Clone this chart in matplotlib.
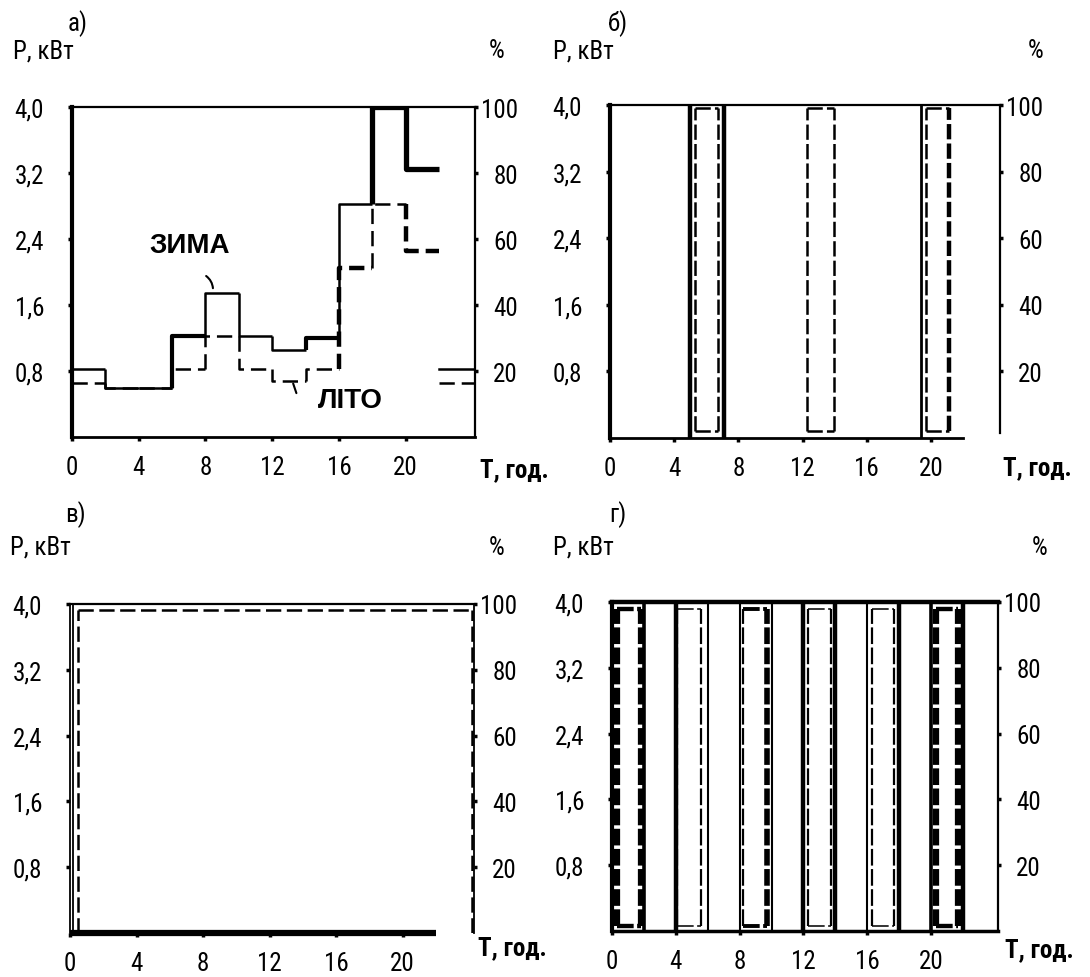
import matplotlib
matplotlib.use('Agg')
import matplotlib.pyplot as plt
from matplotlib import font_manager

# pick a narrow face if one is installed (the scan uses Arial Narrow)
fonts = font_manager.fontManager.ttflist
names = {f.name for f in fonts}
narrow_names = ['Liberation Sans Narrow', 'Arial Narrow', 'Roboto Condensed',
                'Noto Sans Condensed', 'Open Sans Condensed', 'DejaVu Sans Condensed']
narrow = next((n for n in narrow_names if n in names), None)
stretch = 'normal'
if narrow is None:
    for f in fonts:
        if str(f.stretch) in ('condensed', 'semi-condensed') and f.style == 'normal':
            narrow, stretch = f.name, str(f.stretch)
            break
if narrow is None:
    narrow = 'Liberation Sans'
plt.rcParams['font.family'] = [narrow, 'DejaVu Sans']
plt.rcParams['font.stretch'] = stretch
plt.rcParams['lines.scale_dashes'] = False

# --- data ---
hours = [0, 2, 4, 6, 8, 10, 12, 14, 16, 18, 20]
x_ticks = [0, 4, 8, 12, 16, 20]
p_ticks = [0.8, 1.6, 2.4, 3.2, 4.0]
p_labels = ['0,8', '1,6', '2,4', '3,2', '4,0']
pct_ticks = [20, 40, 60, 80, 100]

# а) winter (solid) / summer (dashed) load, kW
a_winter = [0.82, 0.60, 0.60, 1.22, 1.75, 1.22, 1.05, 1.20, 2.82, 4.00, 3.25]
a_summer = [0.65, 0.60, 0.60, 0.82, 1.22, 0.82, 0.68, 0.82, 2.05, 2.82, 2.25]
a_winter_lw = [1.8, 1.8, 1.8, 3.0, 1.8, 1.8, 1.8, 3.0, 1.8, 3.8, 3.8]
a_summer_lw = [1.8, 1.8, 1.8, 1.8, 1.8, 1.8, 1.8, 1.8, 3.2, 1.8, 3.2]
a_tail_start = 22
a_winter_tail = 0.82
a_summer_tail = 0.65

# б) on/off switching
b_switch = [5.0, 7.1, 19.4]
b_switch_lw = [3.2, 3.2, 2.0]
b_on_start = [5.3, 12.3, 19.7]
b_on_end = [6.75, 13.95, 21.15]
b_on_top, b_on_bottom = 3.96, 0.09

# в) continuous operation
c_inner = 0.2
c_on_start, c_on_end = 0.46, 24.15
c_on_top = 3.93
c_base_end = 22

# г) two-hour cycling
d_switch = [2, 4, 6, 8, 10, 12, 14, 16, 18, 20, 22]
d_switch_lw = [2.6, 3.2, 1.5, 1.5, 1.5, 3.2, 3.2, 1.5, 3.2, 2.6, 3.2]
d_on_start = [0.3, 4.1, 8.2, 12.3, 16.3, 20.3]
d_on_end = [1.8, 5.6, 9.7, 13.7, 17.7, 21.7]
d_left_lw = [4.5, 1.6, 1.6, 1.6, 1.6, 4.5]
d_right_lw = [4.5, 1.6, 4.0, 1.6, 1.6, 4.5]
d_on_top, d_on_bottom = 3.92, 0.06

W, H = 1090, 978
fig = plt.figure(figsize=(W / 100, H / 100), dpi=100)
TICK_FS = 18
LAB_FS = 18


def px_axes(l, t, r, b):
    return fig.add_axes([l / W, 1 - b / H, (r - l) / W, (b - t) / H])


def ftext(x, y, s, **kw):
    fig.text(x / W, 1 - y / H, s, **kw)


def setup(ax, xmax, left_lw=3.0):
    ax.set_xlim(0, xmax)
    ax.set_ylim(0, 4.0)
    ax.set_xticks(x_ticks)
    ax.set_xticklabels([str(t) for t in x_ticks], fontsize=TICK_FS)
    ax.set_yticks(p_ticks)
    ax.set_yticklabels(p_labels, fontsize=TICK_FS)
    ax.tick_params(axis='x', length=3, width=2.5, pad=10)
    ax.tick_params(axis='y', length=3, width=2.5, pad=17)
    ax.spines['left'].set_linewidth(left_lw)
    ax.spines['bottom'].set_linewidth(2.0)
    ax.spines['top'].set_linewidth(1.6)
    ax.spines['right'].set_linewidth(1.6)
    ax2 = ax.twinx()
    ax2.set_ylim(0, 100)
    ax2.set_yticks(pct_ticks)
    ax2.set_yticklabels([str(t) for t in pct_ticks], fontsize=TICK_FS, ha='right')
    ax2.tick_params(axis='y', length=2, width=2.5, pad=29)
    for s in ax2.spines.values():
        s.set_visible(False)
    return ax2


def heads(x0, y0, gap, letter, right_x, tlab_x, tlab_y):
    ftext(x0 + 65, y0, letter, fontsize=LAB_FS, ha='center', va='center')
    ftext(x0, y0 + gap, 'Р, кВт', fontsize=LAB_FS, ha='left', va='center')
    ftext(right_x, y0 + gap, '%', fontsize=LAB_FS, ha='center', va='center')
    ftext(tlab_x, tlab_y, 'Т, год.', fontsize=18, ha='left', va='center',
          weight='bold')


def steps(ax, vals, lws, **kw):
    prev = vals[0]
    for h, v, lw in zip(hours, vals, lws):
        ax.plot([h, h, h + 2], [prev, v, v], color='k', lw=lw,
                solid_capstyle='butt', **kw)
        prev = v


def rect(ax, x0, x1, y0, y1, lw_l, lw_r, lw_h, dashes):
    ax.plot([x0, x0], [y0, y1], color='k', lw=lw_l, ls='--', dashes=dashes)
    ax.plot([x1, x1], [y0, y1], color='k', lw=lw_r, ls='--', dashes=dashes)
    ax.plot([x0, x1], [y1, y1], color='k', lw=lw_h, ls='--', dashes=dashes)
    ax.plot([x0, x1], [y0, y0], color='k', lw=lw_h, ls='--', dashes=dashes)


# ---------- а) ----------
ax = px_axes(72, 108, 475, 438)
setup(ax, 24.15)
steps(ax, a_winter, a_winter_lw)
steps(ax, a_summer, a_summer_lw, ls='--', dashes=(11, 5))
ax.plot([a_tail_start, 24.15], [a_winter_tail, a_winter_tail], color='k', lw=1.8)
ax.plot([a_tail_start, 24.15], [a_summer_tail, a_summer_tail], color='k', lw=1.8,
        ls='--', dashes=(11, 5))
bold = dict(fontsize=20, weight='bold', family=['Liberation Sans', 'DejaVu Sans'],
            stretch='normal', ha='center', va='center')
ax.text(7.07, 2.33, 'ЗИМА', **bold)
ax.text(16.7, 0.45, 'ЛІТО', **bold)
ax.annotate('', xy=(8.45, 1.77), xytext=(7.9, 1.97),
            arrowprops=dict(arrowstyle='-', color='k', lw=1.5,
                            connectionstyle='arc3,rad=-0.3'))
ax.annotate('', xy=(13.5, 0.5), xytext=(13.2, 0.68),
            arrowprops=dict(arrowstyle='-', color='k', lw=1.5))
heads(13, 24, 27, 'а)', 497, 480, 470)

# ---------- б) ----------
ax = px_axes(610, 106, 1000, 439)
setup(ax, 24.3)
ax.spines['bottom'].set_bounds(0, 22)
ax.spines['right'].set_bounds(0.06, 4.0)
for x, lw in zip(b_switch, b_switch_lw):
    ax.plot([x, x], [0, 4.0], color='k', lw=lw)
for i, (s, e) in enumerate(zip(b_on_start, b_on_end)):
    rr = 3.2 if i == 2 else 1.8
    rect(ax, s, e, b_on_bottom, b_on_top, 1.8, rr, 1.8, (11, 3))
heads(553, 24, 27, 'б)', 1036, 1003, 468)

# ---------- в) ----------
ax = px_axes(70, 605, 474, 934)
setup(ax, 24.3, left_lw=1.3)
ax.spines['bottom'].set_visible(False)
ax.spines['right'].set_linewidth(1.3)
ax.plot([c_inner, c_inner], [0, 4.0], color='k', lw=1.3)
ax.plot([0, c_base_end], [0, 0], color='k', lw=4.5, clip_on=False,
        solid_capstyle='butt')
ax.plot([c_on_start, c_on_start], [0, c_on_top], color='k', lw=1.8, ls='--', dashes=(11, 4))
ax.plot([c_on_end, c_on_end], [0, c_on_top], color='k', lw=1.8, ls='--', dashes=(11, 4))
ax.plot([c_on_start, c_on_end], [c_on_top, c_on_top], color='k', lw=1.8, ls='--',
        dashes=(11, 4))
heads(10, 515, 33, 'в)', 497, 478, 948)

# ---------- г) ----------
ax = px_axes(612, 603, 998, 932)
setup(ax, 24.2)
ax.spines['top'].set_linewidth(3.2)
ax.spines['bottom'].set_linewidth(2.5)
for x, lw in zip(d_switch, d_switch_lw):
    ax.plot([x, x], [0, 4.0], color='k', lw=lw)
for s, e, ll, rl in zip(d_on_start, d_on_end, d_left_lw, d_right_lw):
    rect(ax, s, e, d_on_bottom, d_on_top, ll, rl, max(ll, rl) * 0.7, (12, 2.5))
heads(553, 515, 33, 'г)', 1040, 1005, 950)

fig.savefig('out.png', dpi=100, facecolor='white')
